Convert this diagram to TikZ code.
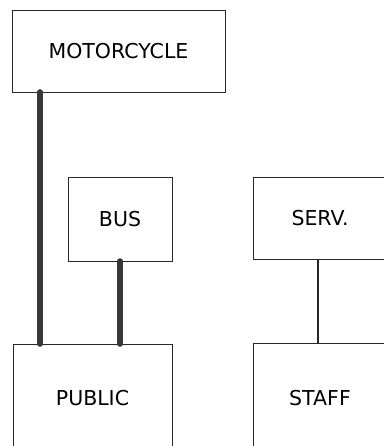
\documentclass[tikz,border=0pt]{standalone}
\usepackage{fontspec}
\setmainfont{DejaVu Sans}
\usetikzlibrary{calc}
\definecolor{inkgray}{RGB}{40,40,40}
\definecolor{heavygray}{RGB}{55,55,55}

\tikzset{
  unitbox/.style={draw=inkgray, line width=0.9pt, rectangle, inner sep=0pt, outer sep=0pt,
    font=\fontsize{20.5}{24}\selectfont, text=black},
  heavylink/.style={draw=heavygray, line width=5.5pt, line cap=round},
  thinlink/.style={draw=inkgray, line width=1.2pt}
}

\begin{document}
\begin{tikzpicture}[x=1pt,y=-1pt]
\useasboundingbox (0,0) rectangle (383,446);

%boxes
\node[unitbox, minimum width=213pt, minimum height=82pt] (moto) at (118.5,51) {MOTORCYCLE};
\node[unitbox, minimum width=104pt, minimum height=84pt] (bus) at (120,219) {BUS};
\node[unitbox, minimum width=134pt, minimum height=82pt] (serv) at (320,218) {SERV.};
\node[unitbox, minimum width=159pt, minimum height=108pt] (public) at (92.5,398) {PUBLIC};
\node[unitbox, minimum width=134pt, minimum height=110pt] (staff) at (320,398) {STAFF};

%links
\draw[heavylink] ([xshift=28pt]moto.south west) -- ([xshift=28pt]moto.south west |- public.north);
\draw[heavylink] (bus.south) -- (bus.south |- public.north);
\draw[thinlink] ([xshift=-2pt]serv.south) -- ([xshift=-2pt]serv.south |- staff.north);

\end{tikzpicture}
\end{document}
